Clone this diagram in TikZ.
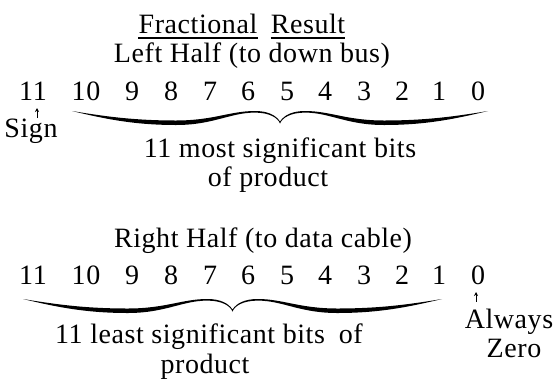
\documentclass[tikz,border=0pt]{standalone}
\usepackage{fontspec}
\setmainfont{Liberation Serif}[LetterSpace=2]
\usetikzlibrary{positioning,arrows.meta}
\tikzset{
  txt/.style={font=\fontsize{21}{25}\selectfont, inner sep=0pt, anchor=base},
  bit/.style={txt},
  ptr/.style={-{Stealth[length=3pt,width=3pt]}, line width=0.6pt},
  uline/.style={line width=1.1pt}
}
% printed curly brace, tip down, drawn on (0,0)--(1,0)
\newcommand{\curlybrace}{%
  \fill (0,0) .. controls (0.08,8) and (0.15,14) .. (0.25,14)
    .. controls (0.34,14) and (0.38,1.6) .. (0.44,1.6)
    .. controls (0.475,1.6) and (0.495,7) .. (0.5,12.5)
    .. controls (0.505,7) and (0.525,1.6) .. (0.56,1.6)
    .. controls (0.62,1.6) and (0.66,14) .. (0.75,14)
    .. controls (0.85,14) and (0.92,8) .. (1,0)
    .. controls (0.92,5.5) and (0.85,9.5) .. (0.75,9.5)
    .. controls (0.66,9.5) and (0.62,0) .. (0.56,0)
    .. controls (0.53,0) and (0.51,4) .. (0.5,10.5)
    .. controls (0.49,4) and (0.47,0) .. (0.44,0)
    .. controls (0.38,0) and (0.34,9.5) .. (0.25,9.5)
    .. controls (0.15,9.5) and (0.08,5.5) .. (0,0) -- cycle;}

\begin{document}
\begin{tikzpicture}[x=0.75pt, y=-0.75pt]
  \useasboundingbox (0,0) rectangle (556,386);
  % heading
  \node[txt] (frac) at (198,33) {Fractional};
  \node[txt] (res) at (308,33) {Result};
  \draw[uline] ([yshift=-3.8pt]frac.base west) -- ([yshift=-3.8pt]frac.base east);
  \draw[uline] ([yshift=-3.8pt]res.base west) -- ([yshift=-3.8pt]res.base east);
  % left half
  \node[txt] (lefthalf) at (252,62) {Left Half (to down bus)};
  \foreach \b/\x in {11/33,10/86,9/132,8/171,7/210,6/248,5/287,4/325,3/364,2/402,1/439,0/478}
    \node[bit] (up\b) at (\x,100) {\b};
  \begin{scope}[shift={(72,111)}, xscale=416]
    \curlybrace
  \end{scope}
  \node[txt] (sign) at (31,137) {Sign};
  \coordinate (signtip) at (37,108);
  \draw[ptr] (sign.north -| signtip) -- (signtip);
  \node[txt] (msb) at (280,157) {11 most significant bits};
  \node[txt] (msbof) at (268,186) {of product};
  % right half
  \node[txt] (righthalf) at (263,247) {Right Half (to data cable)};
  \foreach \b/\x in {11/33,10/86,9/132,8/171,7/210,6/248,5/287,4/325,3/364,2/402,1/439,0/478}
    \node[bit] (lo\b) at (\x,284) {\b};
  \begin{scope}[shift={(23,299)}, xscale=419]
    \curlybrace
  \end{scope}
  \node[txt] (always) at (509,328) {Always};
  \node[txt] (zero) at (514,357) {Zero};
  \coordinate (zerotip) at (476,292);
  \draw[ptr] ([yshift=5pt]always.north -| zerotip) -- (zerotip);
  \node[txt] (lsb) at (209,343) {11 least significant bits\enspace of};
  \node[txt] (lsbof) at (205,373) {product};
\end{tikzpicture}
\end{document}
